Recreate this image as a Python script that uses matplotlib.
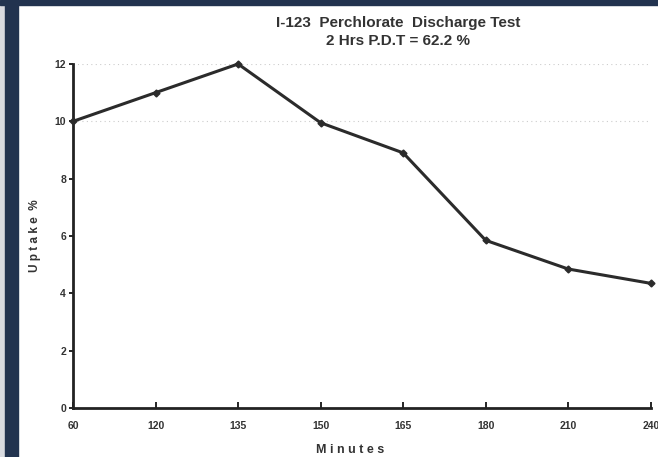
import numpy as np
import matplotlib.pyplot as plt
from matplotlib.patches import Rectangle

minutes = ['60', '120', '135', '150', '165', '180', '210', '240']
uptake = [10.0, 11.0, 12.0, 9.95, 8.9, 5.85, 4.85, 4.35]
yticks = [0, 2, 4, 6, 8, 10, 12]

plt.rcParams['font.family'] = ['Liberation Sans Narrow', 'Liberation Sans', 'DejaVu Sans']

fig = plt.figure(figsize=(6.58, 4.57), dpi=100)
fig.patch.set_facecolor('white')

# scanned page frame: navy band left and top, grey sliver at far left
fig.patches.append(Rectangle((0, 0), 0.007, 1, transform=fig.transFigure, color='#d9dbe0', zorder=0))
fig.patches.append(Rectangle((0.007, 0), 0.021, 1, transform=fig.transFigure, color='#22334f', zorder=0))
fig.patches.append(Rectangle((0, 0.989), 1, 0.011, transform=fig.transFigure, color='#22334f', zorder=0))

ax = fig.add_axes([0.111, 0.107, 0.878, 0.753])
x = np.arange(len(minutes))
ax.plot(x, uptake, color='#2b2b2b', lw=2.2, marker='D', ms=3.5, zorder=3, clip_on=False)

ax.set_xlim(0, len(minutes) - 1)
ax.set_ylim(0, 12)
ax.set_xticks(x)
ax.set_xticklabels(minutes, fontsize=7.5, fontweight='bold', color='#333333')
ax.set_yticks(yticks)
ax.set_yticklabels([str(v) for v in yticks], fontsize=7.5, fontweight='bold', color='#333333')
ax.tick_params(axis='x', direction='in', length=4, width=1.2, pad=9)
ax.tick_params(axis='y', direction='out', length=3, width=1.2, pad=2)

for s in ['top', 'right']:
    ax.spines[s].set_visible(False)
for s in ['left', 'bottom']:
    ax.spines[s].set_linewidth(2)
    ax.spines[s].set_color('#222222')

# faint dotted lines from the scan
for v in [10, 12]:
    ax.axhline(v, color='#cccccc', lw=0.8, ls=(0, (1, 3)), zorder=1)

ax.set_xlabel('M i n u t e s', fontsize=9, fontweight='bold', color='#333333')
ax.xaxis.set_label_coords(0.479, -0.105)
ax.set_ylabel('U p t a k e  %', fontsize=8.5, fontweight='bold', color='#333333')
ax.yaxis.set_label_coords(-0.056, 0.5)

fig.text(0.605, 0.950, 'I-123  Perchlorate  Discharge Test', ha='center', va='center',
         fontsize=11, fontweight='bold', color='#333333')
fig.text(0.605, 0.910, '2 Hrs P.D.T = 62.2 %', ha='center', va='center',
         fontsize=11, fontweight='bold', color='#333333')

fig.savefig('out.png', dpi=100)
